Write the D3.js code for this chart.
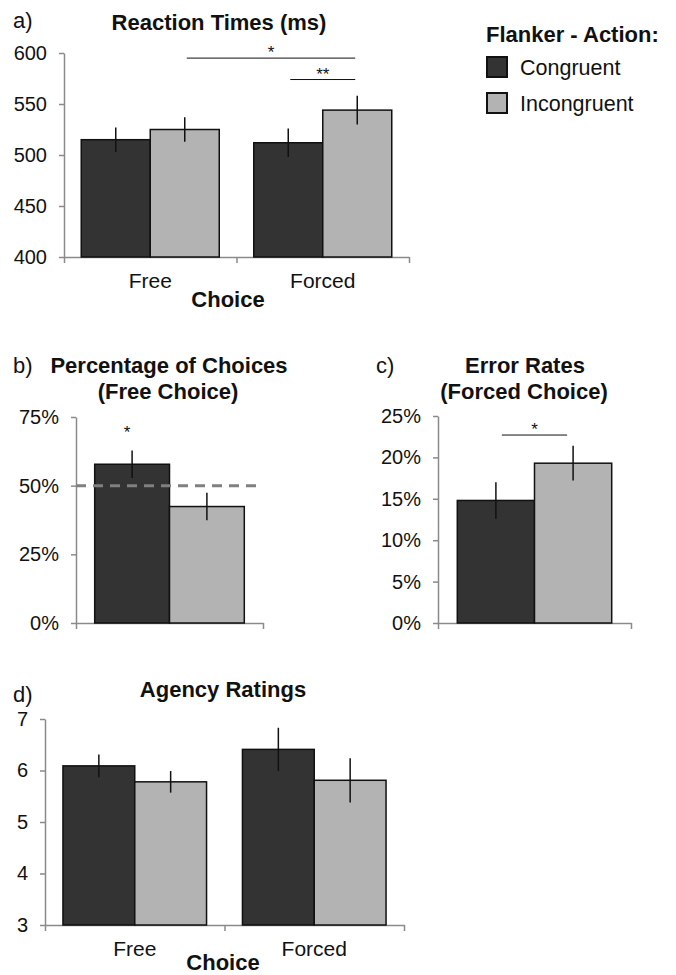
<!DOCTYPE html>
<html>
<head>
<meta charset="utf-8">
<script src="https://cdn.jsdelivr.net/npm/d3@7"></script>
<style>
body { margin: 0; background: #fff; }
svg text { font-family: "Liberation Sans", Arial, sans-serif; fill: #111; }
.axis path, .axis line { stroke: #8a8a8a; stroke-width: 1.5; }
.axis text { font-size: 20px; fill: #111; }
.title { font-size: 22px; font-weight: bold; }
.tag { font-size: 22px; }
.cat { font-size: 21px; }
.xlab { font-size: 22px; font-weight: bold; }
.legend { font-size: 21.5px; }
.bar { stroke: #111; stroke-width: 1.5; }
.err { stroke: #111; stroke-width: 1.5; }
.sig { stroke: #111; stroke-width: 1; }
.star { font-size: 17px; }
</style>
</head>
<body>
<svg id="chart" width="676" height="975"></svg>
<script>
const WIDTH = 676;
const HEIGHT = 975;

// data
var choices = ["Free", "Forced"];
var conditions = ["Congruent", "Incongruent"];

var rtCongruent = [515, 512];
var rtIncongruent = [525, 544];
var rtErrCongruent = [12, 14];
var rtErrIncongruent = [12, 14];
var rtTicks = [400, 450, 500, 550, 600];

var choicePct = [57.8, 42.4];        // congruent, incongruent
var choicePctErr = [5, 5];
var pctTicks = [0, 25, 50, 75];

var errorRate = [14.8, 19.3];        // congruent, incongruent
var errorRateErr = [2.2, 2.1];
var errTicks = [0, 5, 10, 15, 20, 25];

var agencyCongruent = [6.09, 6.41];
var agencyIncongruent = [5.78, 5.81];
var agencyErrCongruent = [0.22, 0.42];
var agencyErrIncongruent = [0.21, 0.43];
var agencyTicks = [3, 4, 5, 6, 7];

var colors = { Congruent: "#333333", Incongruent: "#b3b3b3" };

var _svg = d3.select("#chart");

var rowsFor = function (groups, cong, incong, errC, errI) {
    var rows = [];
    groups.forEach(function (g, i) {
        rows.push({ g: g, c: "Congruent", v: cong[i], e: errC[i] });
        rows.push({ g: g, c: "Incongruent", v: incong[i], e: errI[i] });
    });
    return rows;
};

var drawPanel = function (p) {
    var y = d3.scaleLinear().domain(p.domain).range([p.bottom, p.top]);
    var x0 = d3.scaleBand().domain(p.groups).range([p.left, p.right]);
    var x1 = d3.scaleBand().domain(conditions).range([0, x0.bandwidth()]).paddingOuter(0.25);
    var xb = d3.scaleLinear().domain([0, p.groups.length]).range([p.left, p.right]);

    _svg.append("g")
        .attr("class", "axis")
        .attr("transform", "translate(" + p.left + ",0)")
        .call(d3.axisLeft(y).tickValues(p.ticks).tickSize(5).tickSizeOuter(0)
            .tickPadding(12).tickFormat(p.fmt));

    _svg.append("g")
        .attr("class", "axis")
        .attr("transform", "translate(0," + p.bottom + ")")
        .call(d3.axisBottom(xb).tickValues(d3.range(p.groups.length + 1))
            .tickSize(6).tickSizeOuter(0).tickFormat(""));

    var bx = function (d) { return x0(d.g) + x1(d.c); };
    var cx = function (d) { return x0(d.g) + x1(d.c) + x1.bandwidth() / 2; };

    _svg.append("g").selectAll("rect").data(p.rows)
        .enter().append("rect")
        .attr("class", "bar")
        .attr("x", bx)
        .attr("width", x1.bandwidth())
        .attr("y", function (d) { return y(d.v); })
        .attr("height", function (d) { return p.bottom - y(d.v); })
        .attr("fill", function (d) { return colors[d.c]; });

    _svg.append("g").selectAll("line").data(p.rows)
        .enter().append("line")
        .attr("class", "err")
        .attr("x1", cx).attr("x2", cx)
        .attr("y1", function (d) { return y(d.v + d.e); })
        .attr("y2", function (d) { return y(d.v - d.e); });

    if (p.showLabels) {
        _svg.append("g").selectAll("text").data(p.groups)
            .enter().append("text")
            .attr("class", "cat")
            .attr("text-anchor", "middle")
            .attr("x", function (g) { return x0(g) + x0.bandwidth() / 2; })
            .attr("y", p.bottom + 31)
            .text(function (g) { return g; });
    }

    return { x0: x0, x1: x1, y: y };
};

var center = function (s, g, c) {
    return s.x0(g) + s.x1(c) + s.x1.bandwidth() / 2;
};

var sigLine = function (s, from, to, level, label, inset) {
    var xa = center(s, from[0], from[1]) + inset;
    var xz = center(s, to[0], to[1]) - inset;
    var yy = s.y(level);
    _svg.append("line").attr("class", "sig")
        .attr("x1", xa).attr("x2", xz).attr("y1", yy).attr("y2", yy);
    _svg.append("text").attr("class", "star")
        .attr("text-anchor", "middle")
        .attr("x", (xa + xz) / 2).attr("y", yy)
        .text(label);
};

var text = function (cls, x, y, t, anchor) {
    _svg.append("text").attr("class", cls)
        .attr("x", x).attr("y", y)
        .attr("text-anchor", anchor || "middle")
        .text(t);
};

// a) reaction times
var sa = drawPanel({
    left: 64, right: 409, top: 53, bottom: 257,
    domain: [400, 600], ticks: rtTicks, fmt: d3.format("d"),
    groups: choices,
    rows: rowsFor(choices, rtCongruent, rtIncongruent, rtErrCongruent, rtErrIncongruent),
    showLabels: true
});
sigLine(sa, ["Free", "Incongruent"], ["Forced", "Incongruent"], 595, "*", 2);
sigLine(sa, ["Forced", "Congruent"], ["Forced", "Incongruent"], 574, "**", 2);
text("tag", 13, 28, "a)", "start");
text("title", 219, 30, "Reaction Times (ms)");
text("xlab", 228, 307, "Choice");

// legend
text("title", 486, 42, "Flanker - Action:", "start");
_svg.append("g").selectAll("rect").data(conditions)
    .enter().append("rect")
    .attr("x", 487)
    .attr("y", function (c, i) { return 57 + i * 36; })
    .attr("width", 20).attr("height", 20)
    .attr("fill", function (c) { return colors[c]; })
    .attr("stroke", "#111").attr("stroke-width", 2);
_svg.append("g").selectAll("text").data(conditions)
    .enter().append("text")
    .attr("class", "legend")
    .attr("x", 520)
    .attr("y", function (c, i) { return 75 + i * 36; })
    .text(function (c) { return c; });

// b) percentage of choices
var pctFmt = function (d) { return d + "%"; };
var sb = drawPanel({
    left: 76, right: 263, top: 417, bottom: 623,
    domain: [0, 75], ticks: pctTicks, fmt: pctFmt,
    groups: ["Free"],
    rows: rowsFor(["Free"], [choicePct[0]], [choicePct[1]], [choicePctErr[0]], [choicePctErr[1]]),
    showLabels: false
});
_svg.append("line")
    .attr("x1", 76).attr("x2", 257)
    .attr("y1", sb.y(50)).attr("y2", sb.y(50))
    .attr("stroke", "#808080").attr("stroke-width", 3)
    .attr("stroke-dasharray", "10,7");
text("star", center(sb, "Free", "Congruent") - 5, sb.y(67.5), "*");
text("tag", 13, 373, "b)", "start");
text("title", 169, 373, "Percentage of Choices");
text("title", 168, 399, "(Free Choice)");

// c) error rates
var sc = drawPanel({
    left: 438, right: 631, top: 416, bottom: 623,
    domain: [0, 25], ticks: errTicks, fmt: pctFmt,
    groups: ["Forced"],
    rows: rowsFor(["Forced"], [errorRate[0]], [errorRate[1]], [errorRateErr[0]], [errorRateErr[1]]),
    showLabels: false
});
sigLine(sc, ["Forced", "Congruent"], ["Forced", "Incongruent"], 22.7, "*", 6);
text("tag", 376, 373, "c)", "start");
text("title", 525, 373, "Error Rates");
text("title", 524, 399, "(Forced Choice)");

// d) agency ratings
var sd = drawPanel({
    left: 45, right: 404, top: 719, bottom: 925,
    domain: [3, 7], ticks: agencyTicks, fmt: d3.format("d"),
    groups: choices,
    rows: rowsFor(choices, agencyCongruent, agencyIncongruent, agencyErrCongruent, agencyErrIncongruent),
    showLabels: true
});
text("tag", 13, 702, "d)", "start");
text("title", 223, 697, "Agency Ratings");
text("xlab", 223, 970, "Choice");
</script>
</body>
</html>
